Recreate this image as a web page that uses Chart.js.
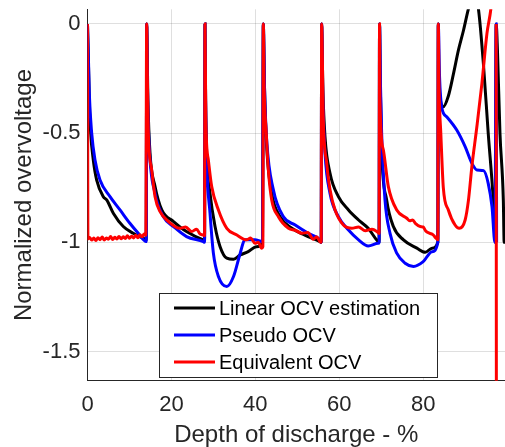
<!DOCTYPE html>
<html>
<head>
<meta charset="utf-8">
<script src="https://cdn.jsdelivr.net/npm/chart.js@4.4.1/dist/chart.umd.min.js"></script>
<style>
  html, body { margin: 0; padding: 0; background: #fff; overflow: hidden; }
</style>
</head>
<body>
<canvas id="ocv-chart" width="505" height="450"></canvas>
<script>
// depth of discharge (%) / normalized overvoltage
const linearX = [0, 0.25, 0.43, 0.76, 1.38, 2.19, 3.77, 4.58, 6.15, 8.53, 10.9, 13.3, 14.0,
  14.1, 14.4, 14.9, 16.1, 17.7, 20.5, 23.6, 27.6, 27.9,
  28.0, 28.15, 28.4, 29.2, 30.4, 31.6, 33.2, 34.8, 36.4, 38.3, 40.3, 41.7,
  41.9, 42.2, 42.7, 43.9, 45.9, 48.7, 51.8, 55.4, 55.7,
  55.8, 56.1, 56.6, 57.8, 59.8, 62.2, 64.6, 66.9, 68.9, 69.5,
  69.6, 69.8, 70.1, 71.3, 72.9, 75.3, 78.5, 80.5, 82.1, 83.5,
  83.6, 83.7, 84.0, 84.8, 86.0, 87.2, 88.4, 89.6, 90.8, 91.8, 92.5, 93.2, 94.4, 95.5, 96.7, 97.2,
  97.4, 97.7, 98.3, 99.1, 99.3, 99.6];
const linearY = [0, -0.2, -0.348, -0.5, -0.623, -0.715, -0.791, -0.806, -0.867, -0.928, -0.959, -0.982, -0.99,
  0, -0.35, -0.592, -0.745, -0.852, -0.905, -0.951, -0.989, -0.99,
  0, -0.35, -0.592, -0.776, -0.928, -1.02, -1.073, -1.078, -1.058, -1.043, -1.02, -1.0,
  0, -0.3, -0.562, -0.776, -0.883, -0.936, -0.967, -0.997, -1.0,
  0, -0.3, -0.516, -0.684, -0.791, -0.852, -0.898, -0.936, -0.989, -1.0,
  0, -0.3, -0.577, -0.806, -0.928, -0.989, -1.027, -1.046, -1.027, -1.0,
  0, -0.2, -0.33, -0.379, -0.33, -0.23, -0.12, -0.03, 0.07, 0.13, 0.12, 0.064, -0.195, -0.5, -0.806, -1.0,
  0, -0.119, -0.5, -0.806, -1.0, -1.0];

const pseudoX = [0, 0.25, 0.43, 1.0, 1.79, 2.98, 5.36, 7.75, 10.1, 12.1, 14.0,
  14.1, 14.35, 14.7, 16.1, 18.1, 20.5, 23.6, 27.6, 27.9,
  28.0, 28.15, 28.4, 29.2, 30.0, 31.2, 33.2, 34.8, 36.4, 37.5, 39.9, 41.7,
  41.9, 42.2, 42.7, 44.3, 46.7, 49.5, 52.6, 55.4, 55.7,
  55.8, 56.1, 56.6, 57.8, 59.8, 62.2, 64.6, 66.9, 69.3, 69.5,
  69.6, 69.85, 70.1, 70.9, 72.1, 73.7, 75.7, 77.7, 80.0, 82.1, 83.5,
  83.6, 83.9, 84.4, 85.6, 88.0, 90.0, 91.6, 92.8, 94.4, 95.5, 96.4, 97.1, 97.4, 97.5];
const pseudoY = [0, -0.18, -0.318, -0.5, -0.623, -0.715, -0.791, -0.852, -0.913, -0.959, -0.997,
  0, -0.35, -0.562, -0.776, -0.883, -0.928, -0.974, -0.997, -1.0,
  0, -0.35, -0.623, -0.867, -1.05, -1.157, -1.203, -1.157, -1.05, -0.989, -0.989, -0.997,
  0, -0.3, -0.531, -0.76, -0.883, -0.921, -0.959, -0.989, -1.0,
  0, -0.35, -0.592, -0.776, -0.883, -0.944, -0.989, -1.017, -1.005, -1.0,
  0, -0.3, -0.5, -0.806, -0.959, -1.05, -1.096, -1.111, -1.089, -1.043, -1.0,
  0, -0.241, -0.379, -0.425, -0.486, -0.562, -0.638, -0.669, -0.672, -0.73, -0.837, -1.0, 0, -1.0];

const equivX = [0, 0.1, 0.5, 1, 1.5, 2, 2.5, 3, 3.5, 4, 4.5, 5, 5.5, 6, 6.5, 7, 7.5, 8, 8.5, 9, 9.5,
  10, 10.5, 11, 11.5, 12, 12.5, 13, 13.5, 13.9,
  14.1, 14.3, 14.5, 15.3, 16.1, 17.3, 19.3, 22.0, 23.4, 24.8, 26.0, 26.8, 27.6, 27.9,
  28.0, 28.2, 28.8, 29.6, 31.2, 33.2, 35.6, 37.9, 38.9, 39.9, 40.7, 41.5, 41.8,
  41.9, 42.1, 42.6, 43.1, 43.9, 45.5, 47.9, 49.5, 51.1, 52.5, 53.8, 54.6, 55.4, 55.7,
  55.8, 56.2, 57.0, 57.8, 59.0, 61.0, 63.0, 64.6, 66.2, 67.8, 69.3, 69.5,
  69.6, 69.7, 70.5, 71.7, 73.7, 76.1, 76.8, 77.5, 78.2, 79.3, 80.0, 80.6, 81.6, 82.3, 83.0, 83.5,
  83.6, 83.8, 84.2, 84.8, 86.0, 87.6, 88.6, 90.0, 90.8, 91.6, 92.8, 94.0, 95.2, 96.1, 96.6, 97.0, 97.4, 97.45];
const equivY = [0, -0.985, -0.978, -0.99, -0.981, -0.992, -0.979, -0.988, -0.976, -0.99, -0.98, -0.986, -0.974,
  -0.987, -0.977, -0.985, -0.973, -0.984, -0.975, -0.983, -0.97, -0.982, -0.972, -0.98, -0.968, -0.979, -0.966,
  -0.975, -0.962, -0.968,
  0, -0.287, -0.5, -0.669, -0.791, -0.86, -0.905, -0.936, -0.93, -0.951, -0.94, -0.962, -0.967, -0.97,
  0, -0.44, -0.623, -0.745, -0.852, -0.936, -0.967, -0.989, -0.98, -1.005, -1.0, -1.027, -1.02,
  0, -0.287, -0.5, -0.669, -0.806, -0.883, -0.936, -0.945, -0.959, -0.955, -0.986, -0.975, -0.997, -1.0,
  0, -0.44, -0.638, -0.76, -0.852, -0.921, -0.936, -0.93, -0.947, -0.94, -0.956, -0.96,
  0, -0.348, -0.577, -0.745, -0.852, -0.89, -0.902, -0.898, -0.915, -0.928, -0.93, -0.948, -0.959, -0.965, -0.98, -0.989,
  0, -0.305, -0.5, -0.75, -0.852, -0.921, -0.936, -0.898, -0.806, -0.654, -0.47, -0.272, -0.043, 0.064, 0.16, null, 0, -1.9];

const seriesNames = ['Linear OCV estimation', 'Pseudo OCV', 'Equivalent OCV'];
const seriesColors = ['#000000', '#0000ff', '#ff0000'];

const xTickValues = [0, 20, 40, 60, 80];
const yTickValues = [0, -0.5, -1, -1.5];
const yTickLabels = ['0', '-0.5', '-1', '-1.5'];

function toPoints(xs, ys) {
  return xs.map((x, i) => ({ x: x, y: ys[i] }));
}

const FONT = '"Liberation Sans", Arial, sans-serif';
const AXIS_COLOR = '#262626';

// legend box drawn inside the plot, MATLAB style
const boxLegend = {
  id: 'boxLegend',
  afterDraw(chart, args, opts) {
    const ctx = chart.ctx;
    ctx.save();
    ctx.fillStyle = '#ffffff';
    ctx.fillRect(opts.left, opts.top, opts.width, opts.height);
    ctx.strokeStyle = AXIS_COLOR;
    ctx.lineWidth = 1;
    ctx.strokeRect(opts.left + 0.5, opts.top + 0.5, opts.width, opts.height);
    ctx.font = opts.fontSize + 'px ' + FONT;
    ctx.textBaseline = 'middle';
    ctx.textAlign = 'left';
    chart.data.datasets.forEach((ds, i) => {
      const y = opts.firstRow + i * opts.rowGap;
      ctx.strokeStyle = ds.borderColor;
      ctx.lineWidth = 3;
      ctx.beginPath();
      ctx.moveTo(opts.left + 15, y);
      ctx.lineTo(opts.left + 56, y);
      ctx.stroke();
      ctx.fillStyle = '#000';
      ctx.fillText(ds.label, opts.left + 60, y + 1);
    });
    ctx.restore();
  }
};

new Chart(document.querySelector('#ocv-chart').getContext('2d'), {
  type: 'line',
  data: {
    datasets: [
      { label: seriesNames[0], data: toPoints(linearX, linearY), borderColor: seriesColors[0], order: 3 },
      { label: seriesNames[1], data: toPoints(pseudoX, pseudoY), borderColor: seriesColors[1], order: 2 },
      { label: seriesNames[2], data: toPoints(equivX, equivY), borderColor: seriesColors[2], order: 1 }
    ]
  },
  options: {
    responsive: false,
    animation: false,
    layout: { padding: { top: 9.3, left: 0, right: 0, bottom: 0 } },
    elements: {
      point: { radius: 0 },
      line: { borderWidth: 3, cubicInterpolationMode: 'monotone', fill: false }
    },
    spanGaps: false,
    plugins: {
      legend: { display: false },
      tooltip: { enabled: false },
      boxLegend: { left: 159, top: 293, width: 278, height: 84, firstRow: 308, rowGap: 27, fontSize: 20 }
    },
    scales: {
      x: {
        type: 'linear',
        min: 0,
        max: 99.5,
        afterBuildTicks: s => { s.ticks = xTickValues.map(v => ({ value: v })); },
        afterFit: s => { s.height = 450 - 380.7; s.paddingLeft = 0; s.paddingRight = 0; },
        grid: { color: 'rgba(38,38,38,0.15)', drawTicks: false },
        border: { color: AXIS_COLOR, width: 1 },
        ticks: { padding: 11, color: AXIS_COLOR, font: { family: FONT, size: 22 }, maxRotation: 0 },
        title: { display: true, text: 'Depth of discharge - %', color: AXIS_COLOR,
                 font: { family: FONT, size: 24 }, padding: { top: 0, bottom: 0 } }
      },
      y: {
        min: -1.634,
        max: 0.067,
        afterBuildTicks: s => { s.ticks = yTickValues.map(v => ({ value: v })); },
        afterFit: s => { s.width = 87.5; s.paddingTop = 0; s.paddingBottom = 0; },
        grid: { color: 'rgba(38,38,38,0.15)', drawTicks: false },
        border: { color: AXIS_COLOR, width: 1 },
        ticks: { padding: 7, color: AXIS_COLOR, font: { family: FONT, size: 22 },
                 callback: v => yTickLabels[yTickValues.indexOf(v)] },
        title: { display: true, text: 'Normalized overvoltage', color: AXIS_COLOR,
                 font: { family: FONT, size: 24 }, padding: { top: 10, bottom: 0 } }
      }
    }
  },
  plugins: [boxLegend]
});
</script>
</body>
</html>
